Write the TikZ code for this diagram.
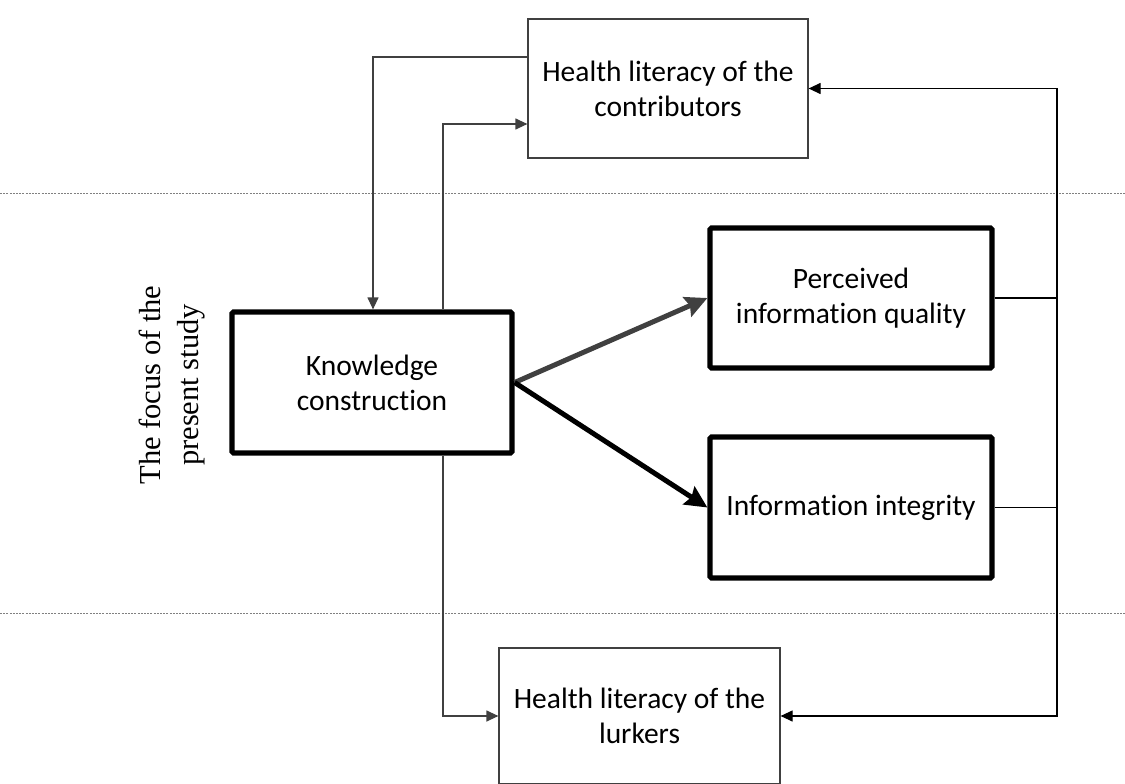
\documentclass[tikz,border=0pt]{standalone}
\usepackage{fontspec}
\setmainfont{Carlito}[Ligatures=NoCommon]
\newfontfamily\serifnote{Liberation Serif}
\usetikzlibrary{arrows.meta}
\definecolor{linegray}{HTML}{404040}
\begin{document}
\begin{tikzpicture}[x=1pt,y=-1pt,
  thinbox/.style={draw=linegray,line width=1.2pt,fill=white,align=center,
    font=\fontsize{29.5}{35}\selectfont,inner sep=0pt},
  thickbox/.style={draw=black,line width=5.2pt,rounded corners=1.5pt,fill=white,
    align=center,font=\fontsize{29.5}{35}\selectfont,inner sep=0pt},
  conn/.style={draw=linegray,line width=1.2pt},
  tip/.style={-{Triangle[length=12pt,width=11pt]}},
  bigarrow/.style={line width=5pt,-{Stealth[length=22pt,width=21pt,inset=3pt]}},
  divider/.style={draw=gray,line width=0.9pt,dash pattern=on 2pt off 1.2pt}]
\useasboundingbox (0,0) rectangle (1125,784);

% section dividers
\coordinate (d1l) at (0,193);   \coordinate (d1r) at (1125,193);
\coordinate (d2l) at (0,613);   \coordinate (d2r) at (1125,613);
\draw[divider] (d1l) -- (d1r);
\draw[divider] (d2l) -- (d2r);

% boxes
\node[thinbox,minimum width=280pt,minimum height=139pt] (top) at (668,88.5)
  {Health literacy of the\\contributors};
\node[thickbox,minimum width=280pt,minimum height=141pt] (know) at (372,382.5)
  {Knowledge\\construction};
\node[thickbox,minimum width=282pt,minimum height=140pt] (perc) at (851,298)
  {Perceived\\information quality};
\node[thickbox,minimum width=282pt,minimum height=141pt] (integ) at (851,507.5)
  {Information integrity};
\node[thinbox,minimum width=281pt,minimum height=136pt] (lurk) at (639.5,716)
  {Health literacy of the\\lurkers};

% rotated side label
\node[rotate=90,align=center,font=\serifnote\fontsize{30.5}{38}\selectfont] (focus) at (172,385)
  {The focus of the\\present study};

% feedback loops around the central box
\draw[conn,tip] ([yshift=31.5pt]top.west) -| ([xshift=1pt]know.north);
\draw[conn,tip] ([xshift=71pt]know.north) |- ([yshift=-35.5pt]top.west);
\draw[conn,tip] ([xshift=71pt]know.south) |- (lurk.west);

% right-hand rail
\coordinate (rail) at (1057,0);
\draw[conn,draw=black] (perc.east) -- (perc.east -| rail);
\draw[conn,draw=black] (integ.east) -- (integ.east -| rail);
\draw[conn,draw=black,{Triangle[length=12pt,width=11pt]}-{Triangle[length=12pt,width=11pt]}]
  (top.east) -| (rail |- lurk.east) -- (lurk.east);

% main effects
\draw[bigarrow,draw=linegray] (know.east) -- (perc.west);
\draw[bigarrow,draw=black] (know.east) -- (integ.west);
\end{tikzpicture}
\end{document}
